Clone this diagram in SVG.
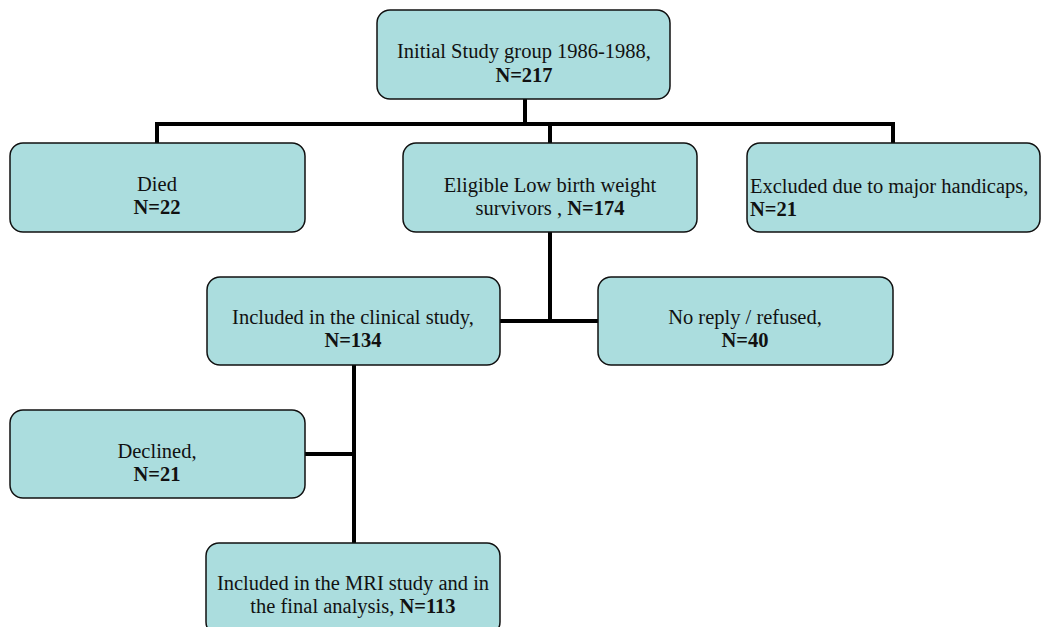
<svg xmlns="http://www.w3.org/2000/svg" width="1042" height="627" viewBox="0 0 1042 627">
<style>
.box{fill:#ABDDDE;stroke:#111;stroke-width:1.5}
.t{font-family:"Liberation Serif","Times New Roman",serif;font-size:20.5px;fill:#111}
.c{text-anchor:middle}
.b{font-weight:bold}
.conn{fill:none;stroke:#000;stroke-width:4}
</style>
<rect width="1042" height="627" fill="#fff"/>
<g id="connectors">
<path class="conn" d="M525 99V124M157 124H893M157 122V143M550 122V143M893 122V143"/>
<path class="conn" d="M550 232V321M500 321H598"/>
<path class="conn" d="M354 365V543M305 454H354"/>
</g>
<g id="n-initial">
<rect class="box" x="377" y="10" width="293" height="89" rx="13"/>
<text class="t c" x="524" y="58">Initial Study group 1986-1988,</text>
<text class="t c b" x="524" y="82">N=217</text>
</g>
<g id="n-died">
<rect class="box" x="10" y="143" width="295" height="89" rx="13"/>
<text class="t c" x="157" y="191">Died</text>
<text class="t c b" x="157" y="214">N=22</text>
</g>
<g id="n-eligible">
<rect class="box" x="403" y="143" width="294" height="89" rx="13"/>
<text class="t c" x="550" y="192">Eligible Low birth weight</text>
<text class="t c" x="550" y="215">survivors , <tspan class="b">N=174</tspan></text>
</g>
<g id="n-excluded">
<rect class="box" x="747" y="143" width="293" height="89" rx="13"/>
<text class="t" x="750" y="193">Excluded due to major handicaps,</text>
<text class="t b" x="750" y="216">N=21</text>
</g>
<g id="n-clinical">
<rect class="box" x="207" y="277" width="293" height="88" rx="13"/>
<text class="t c" x="353" y="324">Included in the clinical study,</text>
<text class="t c b" x="353" y="347">N=134</text>
</g>
<g id="n-noreply">
<rect class="box" x="598" y="277" width="295" height="88" rx="13"/>
<text class="t c" x="745" y="324">No reply / refused,</text>
<text class="t c b" x="745" y="347">N=40</text>
</g>
<g id="n-declined">
<rect class="box" x="10" y="410" width="295" height="88" rx="13"/>
<text class="t c" x="157" y="458">Declined,</text>
<text class="t c b" x="157" y="481">N=21</text>
</g>
<g id="n-mri">
<rect class="box" x="206" y="543" width="294" height="92" rx="13"/>
<text class="t c" x="353" y="590">Included in the MRI study and in</text>
<text class="t c" x="353" y="613">the final analysis, <tspan class="b">N=113</tspan></text>
</g>
</svg>
